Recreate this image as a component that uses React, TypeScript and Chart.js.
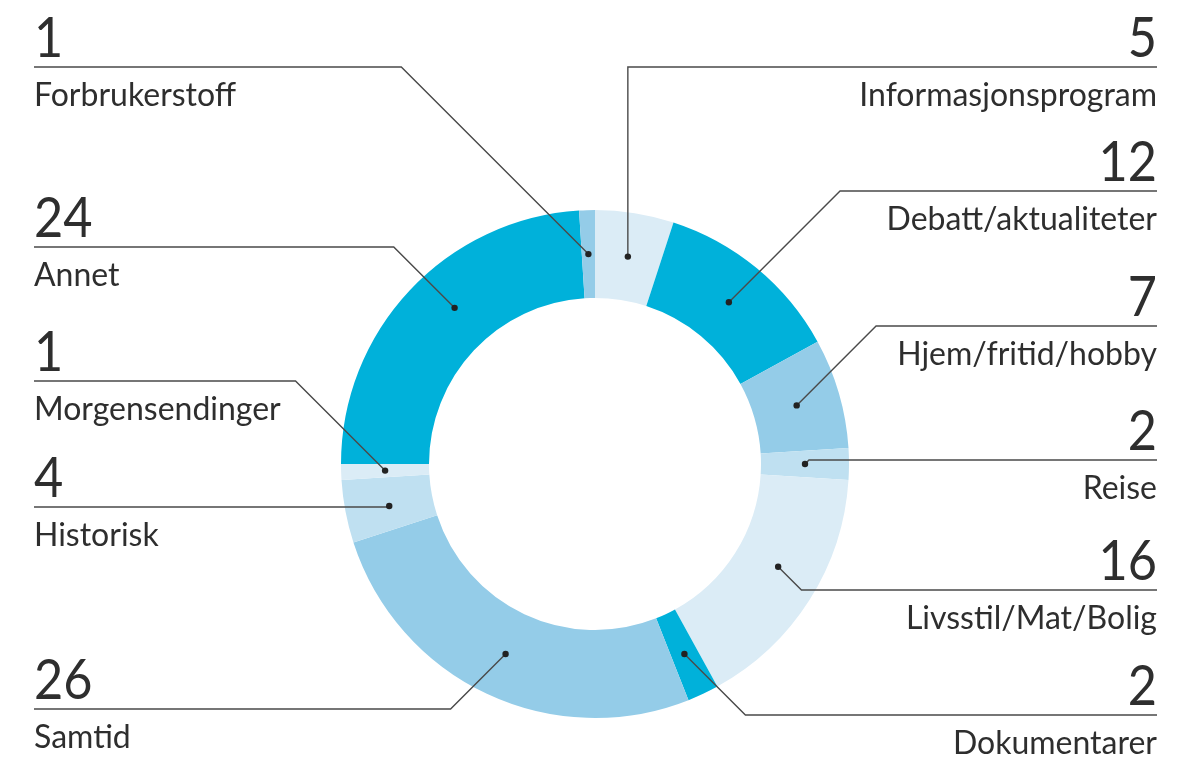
import React, { useEffect, useRef } from "react";
import { Chart, registerables } from "chart.js";

Chart.register(...registerables);

// ---- data ----
const categories = [
  "Informasjonsprogram",
  "Debatt/aktualiteter",
  "Hjem/fritid/hobby",
  "Reise",
  "Livsstil/Mat/Bolig",
  "Dokumentarer",
  "Samtid",
  "Historisk",
  "Morgensendinger",
  "Annet",
  "Forbrukerstoff",
];
const values = [5, 12, 7, 2, 16, 2, 26, 4, 1, 24, 1];
const sliceColors = [
  "#dbecf6",
  "#00b1da",
  "#94cce8",
  "#bfe0f1",
  "#dbecf6",
  "#00b1da",
  "#94cce8",
  "#bfe0f1",
  "#dbecf6",
  "#00b1da",
  "#94cce8",
];

// ---- annotation layout (label placement, not data) ----
const labelSide = ["R", "R", "R", "R", "R", "R", "L", "L", "L", "L", "L"];
const labelLineY = [67, 191, 326, 460, 590, 715, 709, 507, 381, 247, 67];
const leaderKind = ["vert", "diag", "diag", "diag", "diag", "diag", "diag", "diag", "diag", "diag", "diag"];
// where inside each slice (0 = start, 1 = end) the leader dot sits
const dotFraction = [0.5, 0.5, 0.5, 0.5, 0.446, 0.5, 0.5, 0.45, 0.5, 0.556, 0.5];

const LEFT_X = 34;
const RIGHT_X = 1157;
const TEXT_COLOR = "#2e2e2e";
const LINE_COLOR = "#4a4a4a";
const FONT = "Lato, 'Open Sans', sans-serif";

const annotationPlugin = {
  id: "leaderLabels",
  afterDatasetsDraw(chart: any) {
    const ctx = chart.ctx as CanvasRenderingContext2D;
    const meta = chart.getDatasetMeta(0);
    ctx.save();
    meta.data.forEach((arc: any, i: number) => {
      const p = arc.getProps(["x", "y", "startAngle", "endAngle", "innerRadius", "outerRadius"], true);
      const a = p.startAngle + (p.endAngle - p.startAngle) * dotFraction[i];
      const r = (p.innerRadius + p.outerRadius) / 2;
      const dx = p.x + r * Math.cos(a);
      const dy = p.y + r * Math.sin(a);
      const ly = labelLineY[i];
      const side = labelSide[i];
      let cornerX: number;
      if (leaderKind[i] === "vert") {
        cornerX = dx;
      } else {
        const d = Math.abs(ly - dy);
        cornerX = side === "R" ? dx + d : dx - d;
      }
      const endX = side === "R" ? RIGHT_X : LEFT_X;

      ctx.strokeStyle = LINE_COLOR;
      ctx.lineWidth = 1.4;
      ctx.beginPath();
      ctx.moveTo(dx, dy);
      ctx.lineTo(cornerX, ly);
      ctx.lineTo(endX, ly);
      ctx.stroke();

      ctx.fillStyle = "#222";
      ctx.beginPath();
      ctx.arc(dx, dy, 3.2, 0, Math.PI * 2);
      ctx.fill();

      ctx.fillStyle = TEXT_COLOR;
      ctx.textAlign = side === "R" ? "right" : "left";
      ctx.textBaseline = "alphabetic";

      // number: slightly condensed
      ctx.save();
      ctx.translate(endX, ly - 10);
      ctx.scale(0.9, 1);
      ctx.font = `400 56px ${FONT}`;
      ctx.fillText(String(values[i]), 0, 0);
      ctx.restore();

      ctx.font = `400 32px ${FONT}`;
      ctx.fillText(categories[i], endX, ly + 39);
    });
    ctx.restore();
  },
};

export default function App() {
  const canvasRef = useRef<HTMLCanvasElement | null>(null);

  useEffect(() => {
    const canvas = canvasRef.current;
    if (!canvas) return;
    const chart = new Chart(canvas, {
      type: "doughnut",
      data: {
        labels: categories,
        datasets: [
          {
            data: values,
            backgroundColor: sliceColors,
            borderWidth: 0,
            hoverOffset: 0,
          },
        ],
      },
      options: {
        responsive: false,
        animation: false,
        events: [],
        radius: 254,
        cutout: 166,
        layout: { padding: { left: 341, right: 343, top: 210, bottom: 42 } },
        plugins: {
          legend: { display: false },
          tooltip: { enabled: false },
        },
      },
      plugins: [annotationPlugin],
    });
    return () => chart.destroy();
  }, []);

  return (
    <div style={{ position: "fixed", left: 0, top: 0, width: 1192, height: 760, background: "#fff" }}>
      <canvas ref={canvasRef} width={1192} height={760} style={{ width: 1192, height: 760, display: "block" }} />
    </div>
  );
}
